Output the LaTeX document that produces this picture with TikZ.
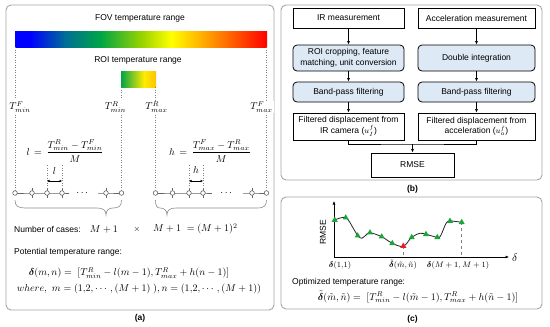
\documentclass[tikz,border=0pt]{standalone}
\usepackage{fontspec}
\usepackage{amsmath,bm}
\usetikzlibrary{arrows.meta,shapes.geometric,calc}
\newfontfamily\sansf{Liberation Sans}
\definecolor{boxblue}{RGB}{222,233,246}
\definecolor{mkgreen}{RGB}{25,165,60}
\definecolor{mkred}{RGB}{235,30,30}
\definecolor{fblue}{RGB}{0,0,255}
\definecolor{fteal}{RGB}{0,110,150}
\definecolor{fgreen}{RGB}{0,165,70}
\definecolor{fygreen}{RGB}{150,210,0}
\definecolor{fyellow}{RGB}{255,255,0}
\definecolor{forange}{RGB}{255,135,0}
\definecolor{fred}{RGB}{255,0,0}
\definecolor{ryellow}{RGB}{255,235,0}
\definecolor{rorange}{RGB}{255,195,0}
\pgfdeclarehorizontalshading{fovshade}{100bp}{color(0bp)=(fblue); color(25bp)=(fblue); color(28bp)=(fblue); color(35bp)=(fteal); color(42bp)=(fgreen); color(50bp)=(fygreen); color(56bp)=(fyellow); color(65bp)=(forange); color(75bp)=(fred); color(100bp)=(fred)}
\pgfdeclarehorizontalshading{roishade}{100bp}{color(0bp)=(fgreen); color(25bp)=(fgreen); color(58bp)=(ryellow); color(75bp)=(rorange); color(100bp)=(rorange)}
\tikzset{
  panel/.style={draw=black!35, line width=0.9pt, rounded corners=5pt},
  txt/.style={font=\sansf\fontsize{8.5}{10}\selectfont, inner sep=0pt},
  captext/.style={font=\sansf\bfseries\fontsize{8.5}{10}\selectfont, inner sep=0pt},
  mth/.style={font=\fontsize{10}{12}\selectfont, inner sep=0pt},
  smth/.style={font=\fontsize{8.5}{10}\selectfont, inner sep=0pt},
  fbox/.style={draw, line width=0.8pt, align=center, inner sep=1pt,
    font=\sansf\fontsize{8.5}{10.5}\selectfont},
  rbox/.style={fbox, fill=boxblue, rounded corners=4pt},
  arr/.style={-{Latex[length=3.5pt,width=3pt]}, line width=0.7pt},
  guide/.style={dotted, draw=black!50, line width=0.5pt},
  rowline/.style={draw=black!60, line width=0.6pt},
  dotc/.style={circle, draw=black!60, fill=white, line width=0.6pt, minimum size=4.6pt, inner sep=0pt},
  bracestyle/.style={draw=black!45, line width=0.6pt},
  tri/.style={regular polygon, regular polygon sides=3, fill=#1, inner sep=0pt, minimum size=7pt},
  curvestyle/.style={draw=black!85, line width=0.8pt},
  dashln/.style={dashed, draw=black!50, line width=0.5pt}
}
\begin{document}
\begin{tikzpicture}[x=1pt,y=-1pt]
\useasboundingbox (0,0) rectangle (550,327);
\fill[white] (0,0) rectangle (550,327);

% ---------------- panel (a) ----------------
\draw[panel] (6,5) rectangle (274,310);
\node[captext] (capa) at (140,318) {(a)};
\node[txt] (fovt) at (140,18) {FOV temperature range};
\shade[shading=fovshade] (15,31) rectangle (267,47);
\node[txt] (roit) at (138,60) {ROI temperature range};
\shade[shading=roishade] (121,71) rectangle (156,87);

% guide lines
\draw[guide] (15,47) -- (15,193);
\draw[guide] (266.5,47) -- (266.5,193);
\draw[guide] (121.5,87) -- (121.5,193);
\draw[guide] (155.5,87) -- (155.5,193);

\node[mth, fill=white, inner sep=1pt] (tfmin) at (20,107) {$T^{F}_{min}$};
\node[mth, fill=white, inner sep=1pt] (trmin) at (115.5,107) {$T^{R}_{min}$};
\node[mth, fill=white, inner sep=1pt] (trmax) at (156.5,107) {$T^{R}_{max}$};
\node[mth, fill=white, inner sep=1pt] (tfmax) at (261.5,107) {$T^{F}_{max}$};

\node[mth, fill=white, inner sep=1pt] (lform) at (65,151) {$l\,=\,\dfrac{T^{R}_{min}-T^{F}_{min}}{M}$};
\node[mth, fill=white, inner sep=1pt] (hform) at (210,151) {$h\,=\,\dfrac{T^{F}_{max}-T^{R}_{max}}{M}$};

% circle rows
\foreach \n/\x in {L1/15,L2/32,L3/47,L4/62,L5/106,L6/121.5,R1/155.5,R2/172.5,R3/189,R4/203,R5/252,R6/266.5}
  \coordinate (k\n) at (\x,193);
\coordinate (eL1) at (69,193);
\coordinate (eL2) at (98,193);
\coordinate (eR1) at (212,193);
\coordinate (eR2) at (243,193);
\foreach \n in {L2,L3,L4,L5,R2,R3,R4,R5}
  \draw[rowline] ($(k\n)+(0,-5)$) -- ($(k\n)+(0,5)$);
\draw[rowline] (kL1) -- (kL2) -- (kL3) -- (kL4) -- (eL1);
\draw[rowline] (eL2) -- (kL5) -- (kL6);
\draw[rowline] (kR1) -- (kR2) -- (kR3) -- (kR4) -- (eR1);
\draw[rowline] (eR2) -- (kR5) -- (kR6);
\foreach \n in {L1,L2,L3,L4,L5,L6,R1,R2,R3,R4,R5,R6}
  \node[dotc] (c\n) at (k\n) {};
\node[mth] (dotsL) at (83,193) {$\cdots$};
\node[mth] (dotsR) at (227,193) {$\cdots$};

% dimension marks
\coordinate (lt1) at (47,165); \coordinate (lt2) at (62,165);
\draw[guide] (lt1) -- (cL3);
\draw[guide] (lt2) -- (cL4);
\coordinate (la1) at (47,181); \coordinate (la2) at (62,181);
\draw[{Latex[length=2.5pt,width=2.5pt]}-{Latex[length=2.5pt,width=2.5pt]}, line width=0.6pt] (la1) -- (la2);
\node[mth] (llab) at (54.5,171) {$l$};
\coordinate (ht1) at (189,165); \coordinate (ht2) at (203,165);
\draw[guide] (ht1) -- (cR3);
\draw[guide] (ht2) -- (cR4);
\coordinate (ha1) at (189,181); \coordinate (ha2) at (203,181);
\draw[{Latex[length=2.5pt,width=2.5pt]}-{Latex[length=2.5pt,width=2.5pt]}, line width=0.6pt] (ha1) -- (ha2);
\node[mth] (hlab) at (196,170) {$h$};

% braces
\draw[bracestyle] (15,200) .. controls (15,206) and (18,208) .. (25,208) -- (97,208)
  .. controls (103,208) and (106,210) .. (106,215) .. controls (106,210) and (109,208) .. (113,208)
  .. controls (119,208) and (121.5,206) .. (121.5,200);
\draw[bracestyle] (155.5,200) .. controls (155.5,206) and (157,208) .. (160,208)
  .. controls (164,208) and (167,210) .. (167,215) .. controls (167,210) and (170,208) .. (176,208)
  -- (257,208) .. controls (264,208) and (266.5,206) .. (266.5,200);

\node[txt, anchor=west] (ncases) at (14,229) {Number of cases:};
\node[mth] (mp1) at (104,229) {$M+1$};
\node[txt] (times) at (137,229) {$\times$};
\node[mth, anchor=west] (mp2) at (153,229) {$M+1\;=(M+1)^2$};

\node[txt, anchor=west] (potential) at (14,252) {Potential temperature range:};
\node[mth] (dform) at (129,273) {$\bm{\delta}(m,n)=\;[T^{R}_{min}-l(m-1),T^{R}_{max}+h(n-1)]$};
\node[mth] (wform) at (139,289) {$where,\ m=(1{,}2,\cdots,(M+1)\;),n=(1{,}2,\cdots,(M+1))$};

% ---------------- panel (b) ----------------
\draw[panel] (281,5) rectangle (542,180);
\node[captext] (capb) at (412.5,189) {(b)};
\node[fbox, minimum width=111pt, minimum height=20pt] (ir) at (348.5,18) {IR measurement};
\node[fbox, minimum width=117pt, minimum height=20pt] (acc) at (476.5,18) {Acceleration measurement};
\node[rbox, minimum width=111pt, minimum height=26pt] (roi) at (348.5,58) {ROI cropping, feature\\matching, unit conversion};
\node[rbox, minimum width=117pt, minimum height=26pt] (dint) at (476.5,58) {Double integration};
\node[rbox, minimum width=111pt, minimum height=20pt] (bp1) at (348.5,92) {Band-pass filtering};
\node[rbox, minimum width=117pt, minimum height=20pt] (bp2) at (476.5,92) {Band-pass filtering};
\node[fbox, minimum width=111pt, minimum height=27pt] (fd1) at (348.5,126.5) {Filtered displacement from\\IR camera ($u_I^f$)};
\node[fbox, minimum width=117pt, minimum height=27pt] (fd2) at (476.5,126.5) {Filtered displacement from\\acceleration ($u_a^f$)};
\node[fbox, minimum width=83pt, minimum height=24pt] (rmse) at (412.5,165) {RMSE};
\draw[arr] (ir) -- (roi);
\draw[arr] (roi) -- (bp1);
\draw[arr] (bp1) -- (fd1);
\draw[arr] (acc) -- (dint);
\draw[arr] (dint) -- (bp2);
\draw[arr] (bp2) -- (fd2);
\coordinate (merge) at (412.5,144);
\draw[line width=0.7pt] (fd1.south) |- (merge) -| (fd2.south);
\draw[arr] (merge) -- (rmse.north);

% ---------------- panel (c) ----------------
\draw[panel] (281,197) rectangle (542,309);
\node[captext] (capc) at (412.5,319) {(c)};
\coordinate (orig) at (334,257);
\coordinate (ytop) at (334,201);
\coordinate (xend) at (509,257);
\draw[arr, line width=0.6pt] (orig) -- (ytop);
\draw[arr, line width=0.6pt] (orig) -- (xend);
\node[font=\fontsize{11}{12}\selectfont, anchor=west, inner sep=0pt] (dlab) at (512,258) {$\delta$};
\node[txt, rotate=90] (rmsel) at (323,232) {RMSE};
\draw[curvestyle] plot[smooth, tension=0.55] coordinates {(334.7,220) (345.7,217.5) (353.3,228.3) (357.7,235.7) (361.7,238.3) (366,235) (370,232.7) (381.7,236.7) (392.3,243.3) (403.3,246.3) (411.7,237.3) (420,233.3) (426,234.3) (437.3,237.3) (440.5,236) (446,223.5) (450,221) (461.7,222.3)};
\coordinate (pmin) at (403.3,246);
\coordinate (pend) at (461.7,222.3);
\draw[dashln] (pmin) -- (403.3,257);
\draw[dashln] (pend) -- (461.7,257);
\foreach \n/\x/\y in {1/334.7/220,2/345.7/217.7,3/357.7/235.7,4/370/232.7,5/381.7/236.7,6/392.3/243.3,8/411.7/237.3,9/426/234.3,10/437.3/237.3,11/450/221,12/461.7/222.3}
  \node[tri=mkgreen] (g\n) at (\x,\y) {};
\node[tri=mkred] (gmin) at (pmin) {};
\node[smth] (x1) at (340,265) {$\bm{\delta}(1{,}1)$};
\node[smth] (x2) at (403,265) {$\tilde{\bm{\delta}}(\tilde{m},\tilde{n})$};
\node[smth] (x3) at (458,265) {$\bm{\delta}(M+1,M+1)$};
\node[txt, anchor=west] (optt) at (292,282) {Optimized temperature range:};
\node[mth] (oform) at (418,297) {$\tilde{\bm{\delta}}(\tilde{m},\tilde{n})=\;[T^{R}_{min}-l(\tilde{m}-1),T^{R}_{max}+h(\tilde{n}-1)]$};
\end{tikzpicture}
\end{document}
